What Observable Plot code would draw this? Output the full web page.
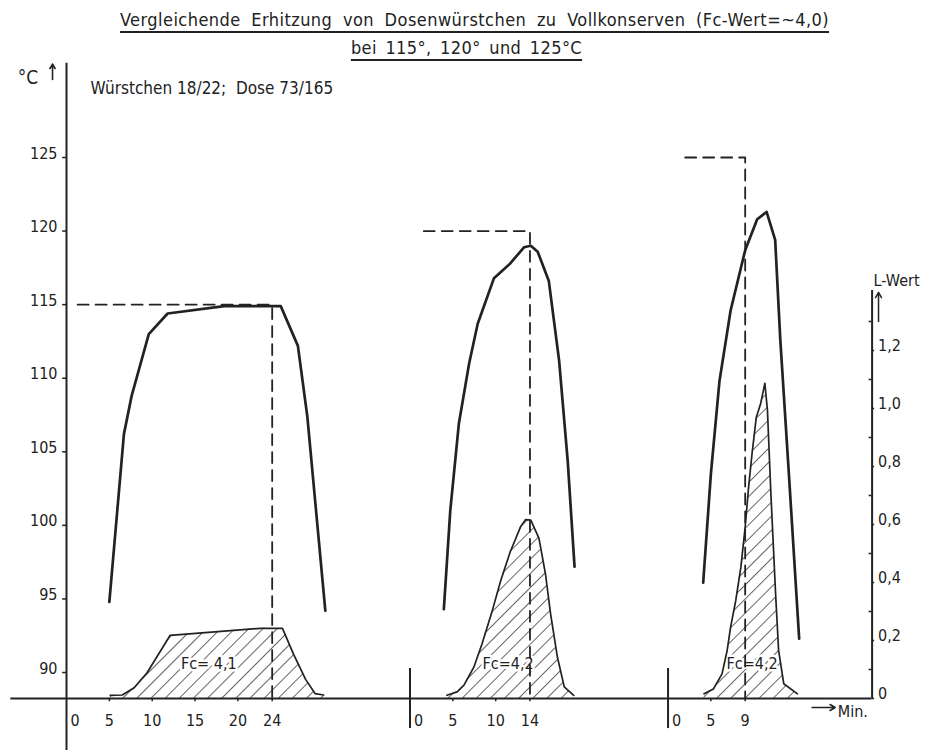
<!DOCTYPE html>
<html>
<head>
<meta charset="utf-8">
<script src="https://cdn.jsdelivr.net/npm/d3@7"></script>
<script src="https://cdn.jsdelivr.net/npm/@observablehq/plot@0.6"></script>
<style>
  body { margin: 0; background: #fff; }
  #wrap { position: relative; width: 933px; height: 754px; }
  .t { position: absolute; left: 0; width: 933px; text-align: center; color: #222;
       font-family: "DejaVu Sans Condensed", "DejaVu Sans", sans-serif; line-height: 20px; }
  .t span { text-decoration: underline; text-decoration-thickness: 2px; text-underline-offset: 5px;
            text-decoration-skip-ink: none; }
  svg text { paint-order: stroke; }
</style>
</head>
<body>
<div id="wrap">
  <div id="chart"></div>
  <div class="t" style="top:10px;left:8px;font-size:18px;letter-spacing:0.45px;word-spacing:5px;"><span>Vergleichende Erhitzung von Dosenwürstchen zu Vollkonserven (Fc-Wert=~4,0)</span></div>
  <div class="t" style="top:38px;font-size:18px;letter-spacing:0.4px;word-spacing:3px;"><span>bei 115°, 120° und 125°C</span></div>
</div>
<script>
// ---------- data (minutes within each panel, °C / L-Wert) ----------
const temp115 = [[5.0,94.8],[6.7,106.2],[7.6,108.8],[9.6,113.0],[11.8,114.4],[18.4,114.9],[25.0,114.9],[27.0,112.2],[28.1,107.4],[30.2,94.2]];
const temp120 = [[3.95,94.3],[4.7,101.0],[5.7,106.9],[6.9,111.0],[7.9,113.7],[9.8,116.8],[11.7,117.8],[13.3,118.9],[14.1,119.0],[14.9,118.6],[16.2,116.6],[17.4,111.2],[18.4,104.4],[19.2,97.2]];
const temp125 = [[4.1,96.1],[5.0,103.5],[6.0,109.8],[7.3,114.6],[9.0,118.7],[10.4,120.8],[11.5,121.3],[12.5,119.4],[13.1,112.6],[14.1,103.5],[15.3,92.3]];

const lwert115 = [[5.1,0.011],[6.5,0.012],[7.9,0.037],[9.4,0.089],[12.1,0.218],[22.6,0.242],[25.2,0.242],[26.5,0.152],[27.9,0.066],[29.0,0.017],[30.0,0.012]];
const lwert120 = [[4.3,0.011],[5.5,0.023],[6.3,0.046],[7.45,0.108],[8.4,0.188],[9.6,0.303],[10.6,0.408],[11.7,0.506],[12.9,0.592],[13.5,0.617],[14.1,0.615],[15.05,0.552],[15.8,0.431],[16.4,0.293],[17.2,0.143],[18.0,0.04],[19.1,0.011]];
const lwert125 = [[4.2,0.016],[5.3,0.033],[6.3,0.085],[6.9,0.166],[7.3,0.246],[7.9,0.338],[8.5,0.453],[9.0,0.591],[9.4,0.729],[9.8,0.844],[10.3,0.97],[10.8,1.016],[11.3,1.087],[11.6,0.993],[12.0,0.706],[12.55,0.361],[12.9,0.166],[13.5,0.051],[15.1,0.016]];

const setTemps  = [115, 120, 125];
const holdTimes = [24, 14, 9];
const fcLabels  = ["Fc= 4,1", "Fc=4,2", "Fc=4,2"];
const ticks1 = [0, 5, 10, 15, 20, 24];
const ticks2 = [0, 5, 10, 14];
const ticks3 = [0, 5, 9];
const tempTicks = [90, 95, 100, 105, 110, 115, 120, 125];
const lTicks = [0, 0.2, 0.4, 0.6, 0.8, 1.0, 1.2];
const lMinor = [0.1, 0.3, 0.5, 0.7, 0.9, 1.1, 1.3];
const noteText = "Würstchen 18/22;\u00a0 Dose 73/165";

// ---------- layout helpers ----------
const FONT = '"DejaVu Sans Condensed","DejaVu Sans",sans-serif';
const INK = "#222";
const PX_PER_C = 14.714;
const Tbase = 90 - 26 / PX_PER_C;          // temperature at the time axis
const kL = 290 / PX_PER_C;                  // °C per L-Wert unit on the right axis
const LtoT = L => Tbase + L * kL;
const fmtL = v => v === 0 ? "0" : v.toFixed(1).replace(".", ",");
const XR = 94;                               // right axis position (min)

const panels = [
  {off: 0,     temp: temp115, L: lwert115, set: setTemps[0], hold: holdTimes[0], dash0: 1.3, fc: fcLabels[0], fcAt: [16.6, 0.12], ticks: ticks1},
  {off: 40.08, temp: temp120, L: lwert120, set: setTemps[1], hold: holdTimes[1], dash0: 1.6, fc: fcLabels[1], fcAt: [11.45, 0.12], ticks: ticks2},
  {off: 70.19, temp: temp125, L: lwert125, set: setTemps[2], hold: holdTimes[2], dash0: 2.0, fc: fcLabels[2], fcAt: [9.8, 0.12], ticks: ticks3}
];

const tempRows = panels.flatMap((p, k) => p.temp.map(([t, v]) => ({x: p.off + t, y: v, k})));
const lRows = panels.flatMap((p, k) => p.L.map(([t, v]) => ({x: p.off + t, y: LtoT(v), k})));
const dashRows = panels.flatMap((p, k) => [
  {x: p.off + p.dash0, y: p.set, k}, {x: p.off + p.hold, y: p.set, k}, {x: p.off + p.hold, y: Tbase, k}
]);
const fcRows = panels.map(p => ({x: p.off + p.fcAt[0], y: LtoT(p.fcAt[1]), text: p.fc}));
const tickRows = panels.flatMap(p => p.ticks.map(v => ({x: p.off + v, v})));

const svg = Plot.plot({
  width: 933, height: 754,
  marginLeft: 66, marginRight: 61.4, marginTop: 0, marginBottom: 0,
  x: {domain: [0, XR], range: [66, 871.6], axis: null},
  y: {domain: [90, 125], range: [672, 157], axis: null},
  style: {fontFamily: FONT, fontSize: "16px", color: INK, background: "transparent", overflow: "visible"},
  marks: [
    // hatched L-Wert areas
    Plot.areaY(lRows, {x: "x", y1: Tbase, y2: "y", z: "k", fill: "url(#hatch)"}),
    Plot.text(fcRows, {x: "x", y: "y", text: "text", fill: INK, stroke: "white", strokeWidth: 5, fontSize: 16}),
    Plot.line(lRows, {x: "x", y: "y", z: "k", stroke: INK, strokeWidth: 1.7, strokeLinejoin: "round"}),
    // temperature curves
    Plot.line(tempRows, {x: "x", y: "y", z: "k", stroke: INK, strokeWidth: 2.7, strokeLinejoin: "round"}),
    // dashed set-temperature / holding-time guides
    Plot.line(dashRows, {x: "x", y: "y", z: "k", stroke: INK, strokeWidth: 1.8, strokeDasharray: "11,7"}),
    // axes lines
    Plot.ruleX([0], {y1: 84.7, y2: 131.4, stroke: INK, strokeWidth: 2}),
    Plot.ruleY([Tbase], {x1: -6.5, x2: XR, stroke: INK, strokeWidth: 2}),
    Plot.ruleX([XR], {y1: Tbase, y2: LtoT(1.407), stroke: INK, strokeWidth: 2}),
    Plot.ruleX([panels[1].off, panels[2].off], {y1: 86.19, y2: 90.27, stroke: INK, strokeWidth: 2}),
    // left temperature axis
    Plot.ruleY(tempTicks, {x1: -0.45, x2: 0, stroke: INK, strokeWidth: 1.5}),
    Plot.text(tempTicks, {x: 0, y: d => d, text: d => String(d), textAnchor: "end", dx: -9, dy: -4, fill: INK, fontSize: 16}),
    Plot.text(["°C"], {x: -5.7, y: 130.44, text: d => d, textAnchor: "start", fill: INK, fontSize: 19}),
    Plot.arrow([0], {x1: -1.63, x2: -1.63, y1: 130.3, y2: 131.35, stroke: INK, strokeWidth: 1.6, headLength: 6}),
    Plot.text([noteText], {x: 2.8, y: 129.69, text: d => d, textAnchor: "start", fill: INK, fontSize: 17}),
    // right L-Wert axis
    Plot.ruleY(lTicks, {x1: XR, x2: XR + 0.3, y: d => LtoT(d), stroke: INK, strokeWidth: 1.5}),
    Plot.ruleY(lMinor, {x1: XR - 0.35, x2: XR, y: d => LtoT(d), stroke: INK, strokeWidth: 1.5}),
    Plot.text(lTicks, {x: XR, y: d => LtoT(d), text: fmtL, textAnchor: "start", dx: 6, dy: -5, fill: INK}),
    Plot.text(["L-Wert"], {x: 94.17, y: LtoT(1.441), text: d => d, textAnchor: "start", fill: INK}),
    Plot.arrow([0], {x1: 94.75, x2: 94.75, y1: LtoT(1.30), y2: LtoT(1.40), stroke: INK, strokeWidth: 1.5, headLength: 6}),
    // time axis
    Plot.ruleX(tickRows.filter(d => d.v > 0), {x: "x", y1: Tbase, y2: Tbase - 0.22, stroke: INK, strokeWidth: 1.5}),
    Plot.text(tickRows.filter(d => d.v > 0), {x: "x", y: Tbase, text: d => String(d.v), dy: 22, fill: INK}),
    Plot.text(tickRows.filter(d => d.v === 0), {x: "x", y: Tbase, text: d => String(d.v), dy: 22, dx: 4, textAnchor: "start", fill: INK}),
    Plot.arrow([0], {x1: 87.0, x2: 89.7, y1: 87.62, y2: 87.62, stroke: INK, strokeWidth: 1.5, headLength: 6}),
    Plot.text(["Min."], {x: 90.0, y: 87.35, text: d => d, textAnchor: "start", fill: INK})
  ]
});

// hatch pattern
const ns = "http://www.w3.org/2000/svg";
const defs = document.createElementNS(ns, "defs");
defs.innerHTML = '<pattern id="hatch" patternUnits="userSpaceOnUse" width="10" height="10" patternTransform="rotate(45)">' +
  '<line x1="0" y1="0" x2="0" y2="10" stroke="' + INK + '" stroke-width="1.4"/></pattern>';
svg.insertBefore(defs, svg.firstChild);
document.getElementById("chart").appendChild(svg);
</script>
</body>
</html>
